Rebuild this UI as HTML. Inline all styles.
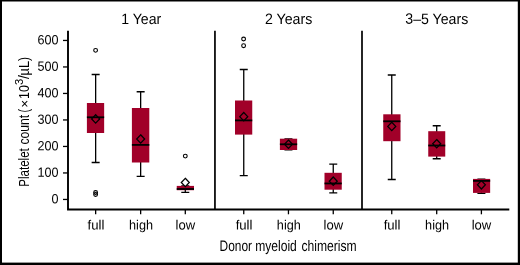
<!DOCTYPE html>
<html><head><meta charset="utf-8"><title>chart</title>
<style>html,body{margin:0;padding:0;background:#fff;}body{width:520px;height:265px;position:relative;overflow:hidden;font-family:"Liberation Sans",sans-serif;}svg text{filter:grayscale(1);}</style></head>
<body>
<svg width="520" height="265" viewBox="0 0 520 265" style="position:absolute;left:0;top:0;will-change:transform;font-family:'Liberation Sans',sans-serif;">
<rect x="0" y="0" width="520" height="265" fill="#fff"/>
<rect x="0" y="0" width="520" height="1.5" fill="#000"/>
<rect x="0" y="0" width="2" height="265" fill="#000"/>
<rect x="517.8" y="0" width="2.2" height="265" fill="#000"/>
<rect x="0" y="262.6" width="520" height="2.4" fill="#000"/>
<path d="M68 30.7V209.5H509.3" fill="none" stroke="#000" stroke-width="1.9"/>
<path d="M214.95 30.7V209.5M362 30.7V209.5" fill="none" stroke="#000" stroke-width="1.7"/>
<path d="M63 40.45H68" stroke="#000" stroke-width="1.3"/>
<text x="58.4" y="44.35" transform="rotate(0.03 58.4 44.35)" font-size="13.3" text-anchor="end" textLength="21" lengthAdjust="spacingAndGlyphs">600</text>
<path d="M63 66.95H68" stroke="#000" stroke-width="1.3"/>
<text x="58.4" y="70.85" transform="rotate(0.03 58.4 70.85)" font-size="13.3" text-anchor="end" textLength="21" lengthAdjust="spacingAndGlyphs">500</text>
<path d="M63 93.45H68" stroke="#000" stroke-width="1.3"/>
<text x="58.4" y="97.35" transform="rotate(0.03 58.4 97.35)" font-size="13.3" text-anchor="end" textLength="21" lengthAdjust="spacingAndGlyphs">400</text>
<path d="M63 119.95H68" stroke="#000" stroke-width="1.3"/>
<text x="58.4" y="123.85" transform="rotate(0.03 58.4 123.85)" font-size="13.3" text-anchor="end" textLength="21" lengthAdjust="spacingAndGlyphs">300</text>
<path d="M63 146.45H68" stroke="#000" stroke-width="1.3"/>
<text x="58.4" y="150.35" transform="rotate(0.03 58.4 150.35)" font-size="13.3" text-anchor="end" textLength="21" lengthAdjust="spacingAndGlyphs">200</text>
<path d="M63 172.95H68" stroke="#000" stroke-width="1.3"/>
<text x="58.4" y="176.85" transform="rotate(0.03 58.4 176.85)" font-size="13.3" text-anchor="end" textLength="21" lengthAdjust="spacingAndGlyphs">100</text>
<path d="M63 199.45H68" stroke="#000" stroke-width="1.3"/>
<text x="58.4" y="203.35" transform="rotate(0.03 58.4 203.35)" font-size="13.3" text-anchor="end" textLength="7" lengthAdjust="spacingAndGlyphs">0</text>
<path d="M95.65 209.5V214.3" stroke="#000" stroke-width="1.3"/>
<text x="95.95" y="229.6" transform="rotate(0.03 95.95 229.6)" font-size="13.4" text-anchor="middle" textLength="16.8" lengthAdjust="spacingAndGlyphs">full</text>
<path d="M140.65 209.5V214.3" stroke="#000" stroke-width="1.3"/>
<text x="141.05" y="229.6" transform="rotate(0.03 141.05 229.6)" font-size="13.4" text-anchor="middle" textLength="24.0" lengthAdjust="spacingAndGlyphs">high</text>
<path d="M185.3 209.5V214.3" stroke="#000" stroke-width="1.3"/>
<text x="185.40" y="229.6" transform="rotate(0.03 185.40 229.6)" font-size="13.4" text-anchor="middle" textLength="19.6" lengthAdjust="spacingAndGlyphs">low</text>
<path d="M243.75 209.5V214.3" stroke="#000" stroke-width="1.3"/>
<text x="244.05" y="229.6" transform="rotate(0.03 244.05 229.6)" font-size="13.4" text-anchor="middle" textLength="16.8" lengthAdjust="spacingAndGlyphs">full</text>
<path d="M288.45 209.5V214.3" stroke="#000" stroke-width="1.3"/>
<text x="288.85" y="229.6" transform="rotate(0.03 288.85 229.6)" font-size="13.4" text-anchor="middle" textLength="24.0" lengthAdjust="spacingAndGlyphs">high</text>
<path d="M333.25 209.5V214.3" stroke="#000" stroke-width="1.3"/>
<text x="333.35" y="229.6" transform="rotate(0.03 333.35 229.6)" font-size="13.4" text-anchor="middle" textLength="19.6" lengthAdjust="spacingAndGlyphs">low</text>
<path d="M391.75 209.5V214.3" stroke="#000" stroke-width="1.3"/>
<text x="392.05" y="229.6" transform="rotate(0.03 392.05 229.6)" font-size="13.4" text-anchor="middle" textLength="16.8" lengthAdjust="spacingAndGlyphs">full</text>
<path d="M436.7 209.5V214.3" stroke="#000" stroke-width="1.3"/>
<text x="437.10" y="229.6" transform="rotate(0.03 437.10 229.6)" font-size="13.4" text-anchor="middle" textLength="24.0" lengthAdjust="spacingAndGlyphs">high</text>
<path d="M481.4 209.5V214.3" stroke="#000" stroke-width="1.3"/>
<text x="481.50" y="229.6" transform="rotate(0.03 481.50 229.6)" font-size="13.4" text-anchor="middle" textLength="19.6" lengthAdjust="spacingAndGlyphs">low</text>
<text x="141.2" y="23.9" transform="rotate(0.03 141.2 23.9)" font-size="15" text-anchor="middle" textLength="40" lengthAdjust="spacingAndGlyphs">1 Year</text>
<text x="288.6" y="23.9" transform="rotate(0.03 288.6 23.9)" font-size="15" text-anchor="middle" textLength="47.3" lengthAdjust="spacingAndGlyphs">2 Years</text>
<text x="436.8" y="23.9" transform="rotate(0.03 436.8 23.9)" font-size="15" text-anchor="middle" textLength="62.9" lengthAdjust="spacingAndGlyphs">3–5 Years</text>
<text x="219.6" y="250.5" transform="rotate(0.03 219.6 250.5)" font-size="15.2" textLength="32.4" lengthAdjust="spacingAndGlyphs">Donor</text>
<text x="255.2" y="250.5" transform="rotate(0.03 255.2 250.5)" font-size="15.2" textLength="41.6" lengthAdjust="spacingAndGlyphs">myeloid</text>
<text x="301.4" y="250.5" transform="rotate(0.03 301.4 250.5)" font-size="15.2" textLength="55.2" lengthAdjust="spacingAndGlyphs">chimerism</text>
<text transform="translate(28.8,186.8) rotate(-90)" font-size="15" textLength="38.6" lengthAdjust="spacingAndGlyphs">Platelet</text>
<text transform="translate(28.8,144.6) rotate(-90)" font-size="15" textLength="29.8" lengthAdjust="spacingAndGlyphs">count</text>
<text transform="translate(28.8,112.5) rotate(-90)" font-size="15" textLength="3.6" lengthAdjust="spacingAndGlyphs">(</text>
<text transform="translate(28.5,107.8) rotate(-90)" font-size="13.5">×</text>
<text transform="translate(28.8,98.9) rotate(-90)" font-size="15" textLength="13.8" lengthAdjust="spacingAndGlyphs">10</text>
<text transform="translate(23.0,85.1) rotate(-90)" font-size="10" textLength="6.3" lengthAdjust="spacingAndGlyphs">3</text>
<text transform="translate(28.8,79.1) rotate(-90)" font-size="15" textLength="3.9" lengthAdjust="spacingAndGlyphs">/</text>
<text transform="translate(28.8,75.4) rotate(-90)" font-size="15" textLength="14.4" lengthAdjust="spacingAndGlyphs">µL</text>
<text transform="translate(28.8,61.0) rotate(-90)" font-size="15" textLength="3.9" lengthAdjust="spacingAndGlyphs">)</text>
<path d="M95.65 74.5V162.5M91.65 74.5H99.65M91.65 162.5H99.65" stroke="#000" stroke-width="1.3" fill="none"/>
<rect x="86.9" y="103" width="17.25" height="30" fill="#A10029"/>
<path d="M86.9 117.3H104.15" stroke="#000" stroke-width="1.8"/>
<path d="M95.65 114.7L99.65 118.9L95.65 123.10000000000001L91.65 118.9Z" stroke="#000" stroke-width="1.25" fill="none"/>
<path d="M140.65 91.75V176.3M136.65 91.75H144.65M136.65 176.3H144.65" stroke="#000" stroke-width="1.3" fill="none"/>
<rect x="131.9" y="108" width="17.400000000000006" height="54.5" fill="#A10029"/>
<path d="M131.9 144.9H149.3" stroke="#000" stroke-width="1.8"/>
<path d="M140.65 134.8L144.65 139.0L140.65 143.2L136.65 139.0Z" stroke="#000" stroke-width="1.25" fill="none"/>
<path d="M185.3 185.9V192.3M181.3 185.9H189.3M181.3 192.3H189.3" stroke="#000" stroke-width="1.3" fill="none"/>
<rect x="176.75" y="185.9" width="17.25" height="4.299999999999983" fill="#A10029"/>
<path d="M176.75 189.0H194" stroke="#000" stroke-width="1.8"/>
<path d="M185.3 178.3L189.3 182.5L185.3 186.7L181.3 182.5Z" stroke="#000" stroke-width="1.25" fill="#fff"/>
<path d="M243.75 69.5V175.55M239.75 69.5H247.75M239.75 175.55H247.75" stroke="#000" stroke-width="1.3" fill="none"/>
<rect x="235" y="100.5" width="17.25" height="34.099999999999994" fill="#A10029"/>
<path d="M235 120.4H252.25" stroke="#000" stroke-width="1.8"/>
<path d="M243.75 112.45L247.75 116.65L243.75 120.85000000000001L239.75 116.65Z" stroke="#000" stroke-width="1.25" fill="none"/>
<path d="M288.45 138.95V149.8M284.45 138.95H292.45M284.45 149.8H292.45" stroke="#000" stroke-width="1.3" fill="none"/>
<rect x="279.9" y="138.7" width="17.25" height="11.300000000000011" fill="#A10029"/>
<path d="M279.9 144.3H297.15" stroke="#000" stroke-width="1.8"/>
<path d="M288.45 140.05L292.45 144.25L288.45 148.45L284.45 144.25Z" stroke="#000" stroke-width="1.25" fill="none"/>
<path d="M333.25 164.1V192.8M329.25 164.1H337.25M329.25 192.8H337.25" stroke="#000" stroke-width="1.3" fill="none"/>
<rect x="324.5" y="172.8" width="17.25" height="16.899999999999977" fill="#A10029"/>
<path d="M324.5 183.45H341.75" stroke="#000" stroke-width="1.8"/>
<path d="M333.25 177.0L337.25 181.2L333.25 185.39999999999998L329.25 181.2Z" stroke="#000" stroke-width="1.25" fill="none"/>
<path d="M391.75 75V179.5M387.75 75H395.75M387.75 179.5H395.75" stroke="#000" stroke-width="1.3" fill="none"/>
<rect x="383.25" y="114.3" width="17.25" height="26.89999999999999" fill="#A10029"/>
<path d="M383.25 121.3H400.5" stroke="#000" stroke-width="1.8"/>
<path d="M391.75 122.2L395.75 126.4L391.75 130.6L387.75 126.4Z" stroke="#000" stroke-width="1.25" fill="none"/>
<path d="M436.7 125.75V158.75M432.7 125.75H440.7M432.7 158.75H440.7" stroke="#000" stroke-width="1.3" fill="none"/>
<rect x="428.25" y="131.2" width="17.0" height="25.400000000000006" fill="#A10029"/>
<path d="M428.25 145.5H445.25" stroke="#000" stroke-width="1.8"/>
<path d="M436.7 139.55L440.7 143.75L436.7 147.95L432.7 143.75Z" stroke="#000" stroke-width="1.25" fill="none"/>
<path d="M481.4 179.2V193.3M477.4 179.2H485.4M477.4 193.3H485.4" stroke="#000" stroke-width="1.3" fill="none"/>
<rect x="473.0" y="178.9" width="17.149999999999977" height="14.0" fill="#A10029"/>
<path d="M473.0 180.9H490.15" stroke="#000" stroke-width="1.8"/>
<path d="M481.4 180.60000000000002L485.4 184.8L481.4 189.0L477.4 184.8Z" stroke="#000" stroke-width="1.25" fill="none"/>
<circle cx="95.6" cy="50.35" r="1.9" fill="none" stroke="#000" stroke-width="1.1"/>
<circle cx="95.6" cy="192.5" r="1.9" fill="none" stroke="#000" stroke-width="1.1"/>
<circle cx="95.6" cy="194.5" r="1.9" fill="none" stroke="#000" stroke-width="1.1"/>
<circle cx="185.3" cy="156.1" r="1.9" fill="none" stroke="#000" stroke-width="1.1"/>
<circle cx="243.6" cy="39" r="1.9" fill="none" stroke="#000" stroke-width="1.1"/>
<circle cx="243.6" cy="45.7" r="1.9" fill="none" stroke="#000" stroke-width="1.1"/>
</svg>
</body></html>
